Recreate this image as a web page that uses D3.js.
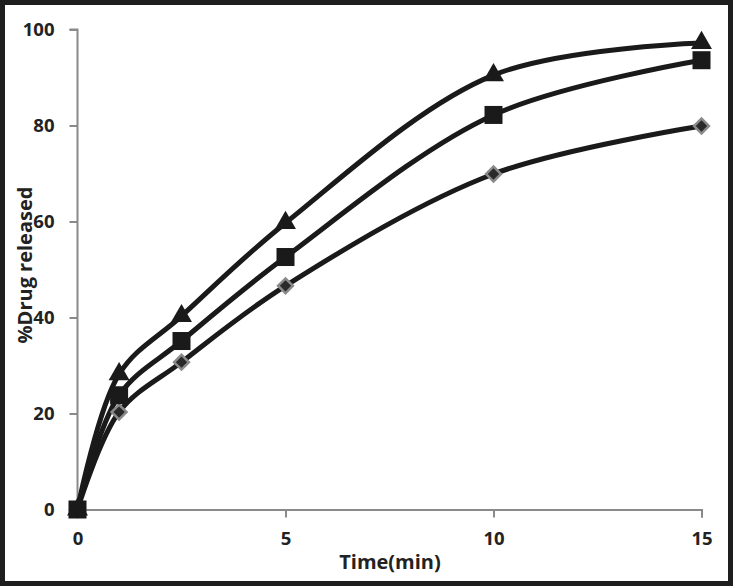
<!DOCTYPE html>
<html><head><meta charset="utf-8">
<script src="https://cdn.jsdelivr.net/npm/d3@7"></script>
<style>html,body{margin:0;padding:0;background:#fff}svg{display:block}</style>
</head><body>
<svg id="c" width="733" height="586"></svg>
<script>
const times = [0, 1, 2.5, 5, 10, 15];
const triangleSeries = [0, 28.2, 40.3, 59.7, 90.5, 97.2];
const squareSeries = [0, 23.8, 35.1, 52.6, 82.2, 93.6];
const diamondSeries = [0, 20.3, 30.7, 46.6, 69.9, 79.9];
const xTicks = [0, 5, 10, 15];
const yTicks = [0, 20, 40, 60, 80, 100];
const xTitle = "Time(min)";
const yTitle = "%Drug released";

const svg = d3.select("#c");
const x = d3.scaleLinear().domain([0, 15]).range([77.5, 701.5]);
const y = d3.scaleLinear().domain([0, 100]).range([509.5, 29.5]);
const font = "'Open Sans', 'DejaVu Sans', sans-serif";

svg.append("rect").attr("x", 2.5).attr("y", 2.5).attr("width", 728).attr("height", 581)
  .attr("fill", "#fff").attr("stroke", "#1e1e1e").attr("stroke-width", 5);

const yAx = svg.append("g").attr("transform", "translate(77.5,0)")
  .call(d3.axisLeft(y).tickValues(yTicks).tickSize(8).tickPadding(15));
const xAx = svg.append("g").attr("transform", "translate(0,509.5)")
  .call(d3.axisBottom(x).tickValues(xTicks).tickSize(8).tickPadding(14));
[yAx, xAx].forEach(g => {
  g.selectAll("path,line").attr("stroke", "#8a8a8a").attr("stroke-width", 2);
  g.selectAll("text").attr("font-family", font).attr("font-size", 18.5)
    .attr("font-weight", "bold").attr("fill", "#222");
});
yAx.select(".domain").attr("d", `M-8,${y(100)}H0V${y(0)}`);

svg.append("text").attr("x", 390).attr("y", 569).attr("text-anchor", "middle")
  .attr("font-family", font).attr("font-size", 20).attr("font-weight", "bold").attr("fill", "#222")
  .text(xTitle);
svg.append("text").attr("transform", "translate(32,265) rotate(-90)").attr("text-anchor", "middle")
  .attr("font-family", font).attr("font-size", 20).attr("font-weight", "bold").attr("fill", "#222")
  .text(yTitle);

const line = d3.line().x((d, i) => x(times[i])).y(d => y(d)).curve(d3.curveCatmullRom.alpha(0.5));
const series = [diamondSeries, squareSeries, triangleSeries];
series.forEach(s => {
  svg.append("path").attr("d", line(s)).attr("fill", "none")
    .attr("stroke", "#1a1a1a").attr("stroke-width", 5).attr("stroke-linecap", "round");
});

svg.append("g").selectAll("path").data(diamondSeries).join("path")
  .attr("transform", (d, i) => `translate(${x(times[i])},${y(d)}) rotate(45)`)
  .attr("d", d3.symbol(d3.symbolSquare, 110)())
  .attr("fill", "#2a2a2a").attr("stroke", "#8a8a8a").attr("stroke-width", 2.5);
svg.append("g").selectAll("path").data(triangleSeries).join("path")
  .attr("transform", (d, i) => `translate(${x(times[i])},${y(d)})`)
  .attr("d", d3.symbol(d3.symbolTriangle, 190)())
  .attr("fill", "#1a1a1a");
svg.append("g").selectAll("rect").data(squareSeries).join("rect")
  .attr("x", (d, i) => x(times[i]) - 9).attr("y", d => y(d) - 9)
  .attr("width", 18).attr("height", 18).attr("fill", "#1a1a1a");
</script>
</body></html>
